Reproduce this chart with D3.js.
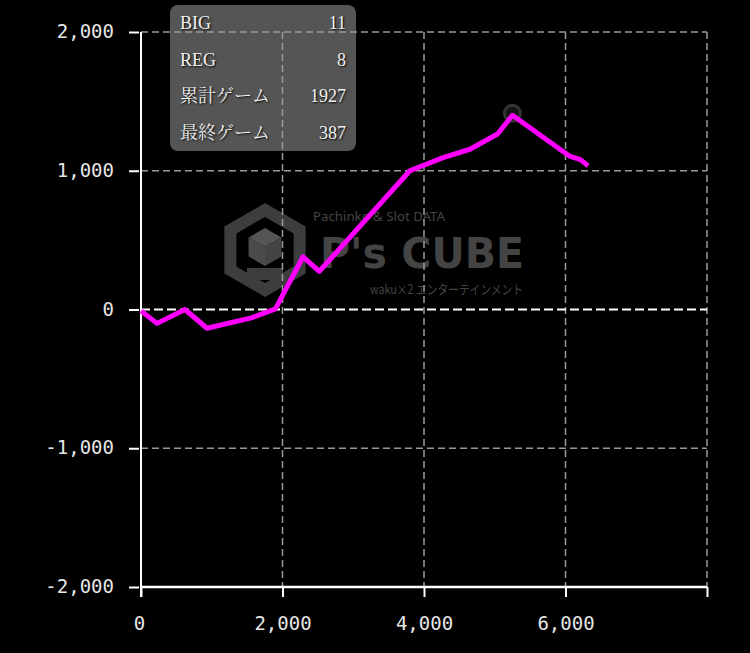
<!DOCTYPE html>
<html>
<head>
<meta charset="utf-8">
<script src="https://cdn.jsdelivr.net/npm/d3@7"></script>
<style>
html,body{margin:0;padding:0;background:#000;}
svg{display:block;}
</style>
</head>
<body>
<svg id="chart" width="750" height="653"></svg>
<script>
// ---- data ----
const games = [0, 226, 622, 933, 1560, 1900, 2290, 2520, 3800, 4270, 4650, 5040, 5250, 6060, 6210, 6320];
const diff  = [-10, -100, 0, -135, -60, 5, 380, 275, 1000, 1095, 1155, 1265, 1400, 1105, 1080, 1035];
const xTicks = [0, 2000, 4000, 6000, 8000];
const xTickLabels = ["0", "2,000", "4,000", "6,000", ""];
const yTicks = [-2000, -1000, 0, 1000, 2000];
const infoLabels = ["BIG", "REG", "累計ゲーム", "最終ゲーム"];
const infoValues = ["11", "8", "1927", "387"];
const peakIndex = 12;

const svg = d3.select("#chart");
const W = 750, H = 653;
const m = {left:141, right:707, top:32, bottom:587};

svg.append("rect").attr("width", W).attr("height", H).attr("fill", "#000");

const x = d3.scaleLinear().domain([0, 8000]).range([m.left, m.right]);
const y = d3.scaleLinear().domain([-2000, 2000]).range([m.bottom, m.top]);

// ---- watermark ----
const wm = svg.append("g").attr("class", "watermark");
const hc = [265, 250], hr = 40;
const hex = d3.range(6).map(i => {
  const a = Math.PI / 180 * (60 * i - 90);
  return [hc[0] + hr * Math.cos(a), hc[1] + hr * Math.sin(a)];
});
wm.append("path")
  .attr("d", "M" + hex.map(p => p.join(",")).join("L") + "Z")
  .attr("fill", "none").attr("stroke", "#3d3d3d").attr("stroke-width", 12)
  .attr("stroke-linejoin", "miter");
const cc = [265, 247], cr = 19;
const cp = d3.range(6).map(i => {
  const a = Math.PI / 180 * (60 * i - 90);
  return [cc[0] + cr * Math.cos(a), cc[1] + cr * Math.sin(a)];
});
const face = (pts, col) => wm.append("path")
  .attr("d", "M" + pts.map(p => p.join(",")).join("L") + "Z").attr("fill", col);
face([cp[0], cp[1], cc, cp[5]], "#555");
face([cp[1], cp[2], cp[3], cc], "#444");
face([cp[5], cc, cp[3], cp[4]], "#4a4a4a");
wm.append("rect").attr("x", 247).attr("y", 268).attr("width", 36).attr("height", 12).attr("fill", "#3d3d3d");
wm.append("text").attr("x", 313).attr("y", 221)
  .attr("font-family", "Noto Sans, sans-serif").attr("font-size", 13)
  .attr("fill", "#444").attr("textLength", 132).attr("lengthAdjust", "spacingAndGlyphs")
  .text("Pachinko & Slot DATA");
wm.append("text").attr("x", 320).attr("y", 268)
  .attr("font-family", "DejaVu Sans, sans-serif").attr("font-size", 42).attr("font-weight", "bold")
  .attr("fill", "#444").attr("textLength", 204).attr("lengthAdjust", "spacingAndGlyphs")
  .text("P's CUBE");
wm.append("text").attr("x", 370).attr("y", 294)
  .attr("font-family", "Noto Sans CJK JP, Noto Sans, sans-serif").attr("font-size", 13)
  .attr("fill", "#444").attr("textLength", 153).attr("lengthAdjust", "spacingAndGlyphs")
  .text("waku×2 エンターテインメント");

// ---- info box (under grid) ----
const box = svg.append("g").attr("class", "info");
box.append("rect").attr("x", 170).attr("y", 5).attr("width", 186).attr("height", 146)
  .attr("rx", 8).attr("fill", "#555");
const rowBase = [29, 66, 102, 139];
infoLabels.forEach((lab, i) => {
  box.append("text").attr("x", 180).attr("y", rowBase[i])
    .attr("font-family", "Liberation Serif, Noto Serif CJK JP, Noto Sans CJK JP, serif")
    .attr("font-size", 18).attr("fill", "#f2f2f2")
    .style("text-shadow", "1px 1px 2px #000")
    .text(lab);
  box.append("text").attr("x", 346).attr("y", rowBase[i]).attr("text-anchor", "end")
    .attr("font-family", "Liberation Serif, serif")
    .attr("font-size", 18).attr("fill", "#f2f2f2")
    .style("text-shadow", "1px 1px 2px #000")
    .text(infoValues[i]);
});

// ---- grid ----
const grid = svg.append("g").attr("class", "grid");
xTicks.filter(v => v !== 0).forEach(v => {
  grid.append("line").attr("x1", x(v)).attr("x2", x(v)).attr("y1", m.top).attr("y2", m.bottom)
    .attr("stroke", "#9a9a9a").attr("stroke-width", 1.5).attr("stroke-dasharray", "7,4");
});
yTicks.filter(v => v !== -2000).forEach(v => {
  const zero = v === 0;
  grid.append("line").attr("x1", m.left).attr("x2", m.right).attr("y1", y(v)).attr("y2", y(v))
    .attr("stroke", zero ? "#ffffff" : "#9a9a9a")
    .attr("stroke-width", zero ? 2 : 1.5)
    .attr("stroke-dasharray", zero ? "9,4" : "7,4");
});

// ---- axes ----
const fontMono = "DejaVu Sans Mono, monospace";
const yAxis = d3.axisLeft(y).tickValues(yTicks).tickSize(10).tickPadding(15)
  .tickFormat(d => d3.format(",")(d).replace("−", "-"));
const gy = svg.append("g").attr("transform", `translate(${m.left - 2},0)`).call(yAxis);
gy.select(".domain").remove();
gy.selectAll(".tick line").attr("stroke", "#fff").attr("stroke-width", 2);
gy.selectAll(".tick text").attr("fill", "#e6e6e6").attr("font-family", fontMono).attr("font-size", 19)
  .attr("dy", "0.3em");
svg.append("line").attr("x1", m.left).attr("x2", m.left).attr("y1", m.top).attr("y2", m.bottom + 10)
  .attr("stroke", "#fff").attr("stroke-width", 2);

const xAxis = d3.axisBottom(x).tickValues(xTicks).tickSize(10).tickPadding(20)
  .tickFormat((d, i) => xTickLabels[i]);
const gx = svg.append("g").attr("transform", `translate(0,${m.bottom})`).call(xAxis);
gx.select(".domain").attr("stroke", "#fff").attr("stroke-width", 2.5).attr("d", `M${m.left},0H${m.right}`);
gx.selectAll(".tick line").attr("stroke", "#fff").attr("stroke-width", 2);
gx.selectAll(".tick text").attr("fill", "#e6e6e6").attr("font-family", fontMono).attr("font-size", 19)
  .attr("dy", "0.71em").attr("dx", (d, i) => i === 0 ? -2 : 0);

// ---- peak marker ----
svg.append("circle").attr("cx", x(games[peakIndex])).attr("cy", y(diff[peakIndex]) - 2).attr("r", 8)
  .attr("fill", "rgba(40,40,40,0.5)").attr("stroke", "#333").attr("stroke-width", 3);

// ---- line ----
const line = d3.line().x((d, i) => x(games[i])).y(d => y(d));
svg.append("path").datum(diff).attr("d", line)
  .attr("fill", "none").attr("stroke", "#ff00ff").attr("stroke-width", 5)
  .attr("stroke-linejoin", "round").attr("stroke-linecap", "butt");
</script>
</body>
</html>
